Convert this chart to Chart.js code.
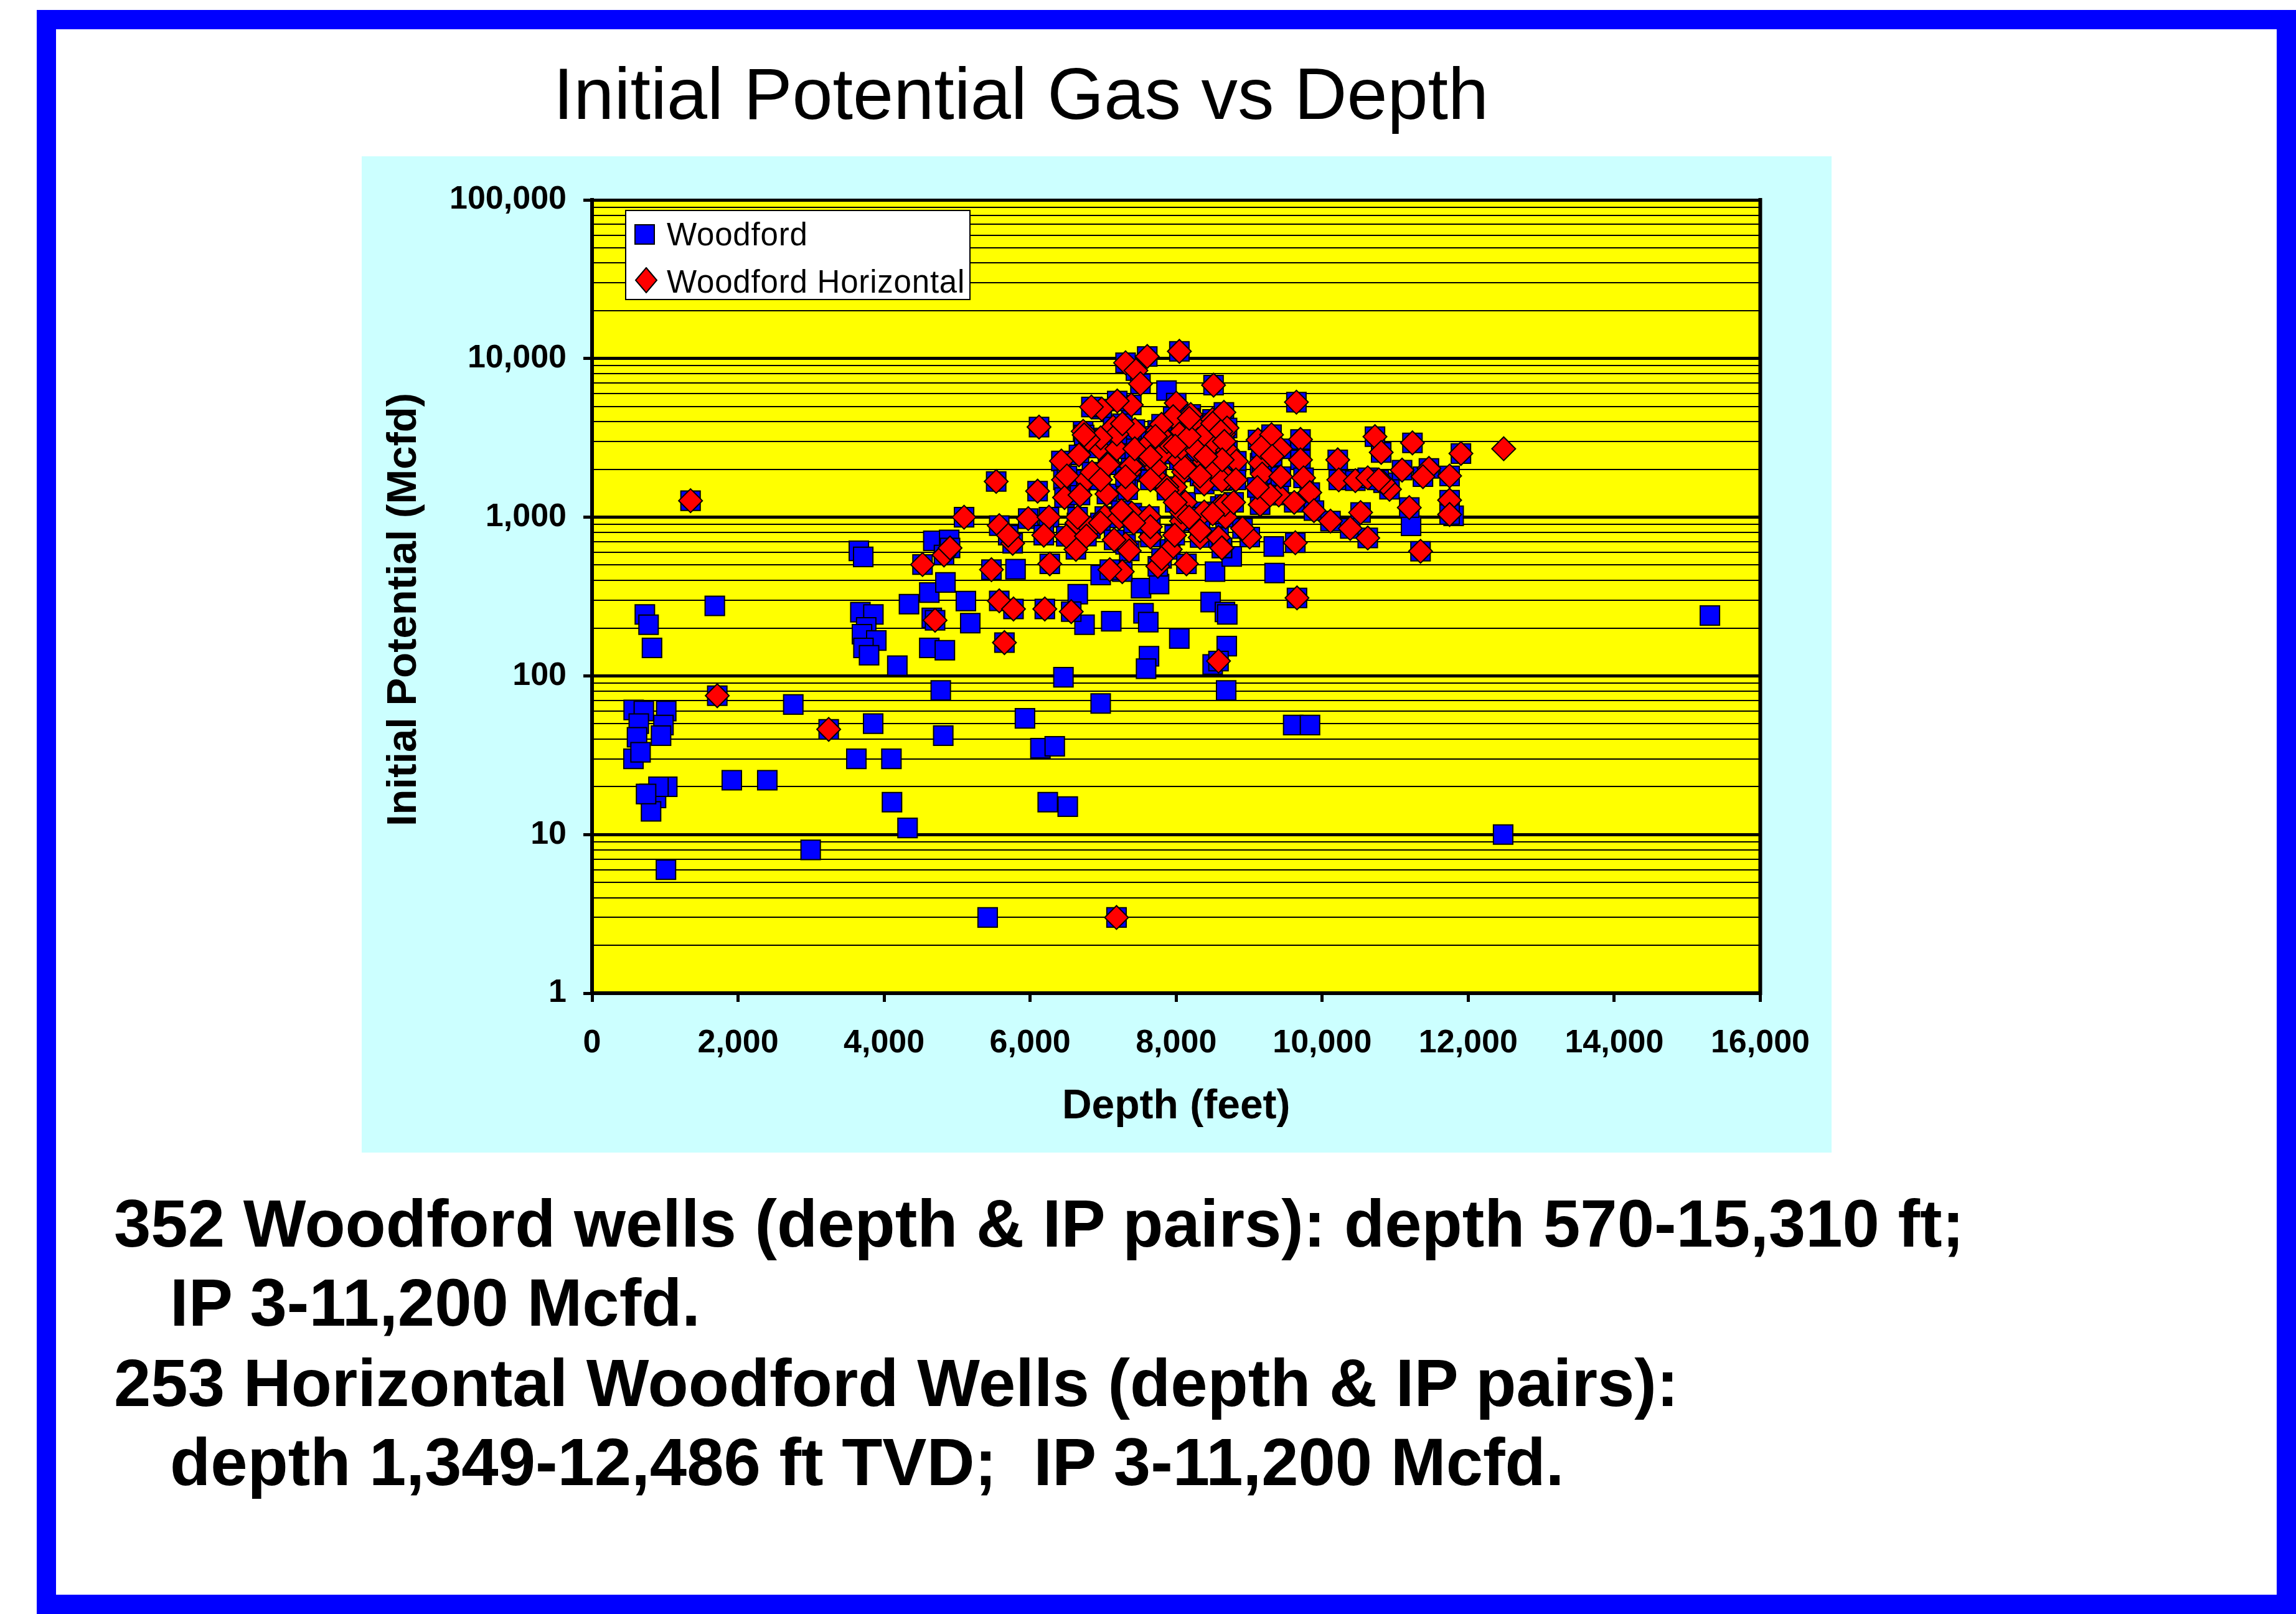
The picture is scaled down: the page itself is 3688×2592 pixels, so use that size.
<!DOCTYPE html>
<html><head><meta charset="utf-8">
<script src="https://cdn.jsdelivr.net/npm/chart.js@4.4.1/dist/chart.umd.min.js"></script>
<style>
html,body{margin:0;padding:0;background:#fff;}
body{width:3688px;height:2592px;position:relative;overflow:hidden;font-family:'Liberation Sans',Arial,sans-serif;color:#000;}
#frame{position:absolute;left:59px;top:16px;width:3629px;height:2576px;border:31px solid #0000FF;box-sizing:border-box;}
#title{position:absolute;left:1640px;top:92px;transform:translateX(-50%);font-size:117px;line-height:117px;white-space:nowrap;}
#chartBox{position:absolute;left:581px;top:251px;width:2361px;height:1600px;background:#CCFFFF;}
#legend{position:absolute;left:1004px;top:337px;width:555px;height:145px;box-sizing:border-box;border:2px solid #000;background:#fff;}
.lg{position:absolute;left:1071px;font-size:51px;line-height:52px;white-space:nowrap;letter-spacing:0.8px;}
.mk{position:absolute;}
.note{position:absolute;font-size:106.7px;line-height:106px;font-weight:bold;white-space:nowrap;}
</style></head>
<body>
<div id="frame"></div>
<div id="title">Initial Potential Gas vs Depth</div>
<div id="chartBox"><canvas id="c" width="2361" height="1600" style="width:2361px;height:1600px;display:block"></canvas></div>
<div id="legend"></div>
<svg class="mk" style="left:1019px;top:360px" width="34" height="34"><rect x="1" y="1" width="31" height="31" fill="#0000FF" stroke="#000" stroke-width="2"/></svg>
<svg class="mk" style="left:1019px;top:429px" width="38" height="42"><polygon points="19,1 36,21 19,41 2,21" fill="#FF0000" stroke="#000" stroke-width="2"/></svg>
<div class="lg" style="top:351px">Woodford</div>
<div class="lg" style="top:427px">Woodford Horizontal</div>
<div class="note" style="left:183px;top:1912px">352 Woodford wells (depth &amp; IP pairs): depth 570-15,310 ft;</div>
<div class="note" style="left:273px;top:2039px">IP 3-11,200 Mcfd.</div>
<div class="note" style="left:183px;top:2168px">253 Horizontal Woodford Wells (depth &amp; IP pairs):</div>
<div class="note" style="left:273px;top:2295px">depth 1,349-12,486 ft TVD;&nbsp; IP 3-11,200 Mcfd.</div>
<script>
// ---- data ----
// Woodford wells that are not horizontal (blue squares only)
const woodfordDepth = [570,709,1016,640,978,616,945,567,664,787,876,1030,910,808,740,723,774,821,1012,1681,1914,2400,2756,2994,3620,3654,3714,3675,3853,3755,3697,3893,3717,3794,3850,4100,4108,4181,4321,4341,4619,4840,4653,4619,4832,4776,4810,4674,4891,5120,5180,5418,5800,5929,6141,6337,6241,6515,6456,6966,6652,6745,7111,6966,7519,7766,7553,7618,8043,7628,7588,8693,8472,8668,8700,8500,8685,9348,9337,8532,8761,9603,9833,11217,11800,7868,12478,15310];
const woodfordIP    = [61,60,60,50,49,41,42,30,33,18,17,20,20,14,18,244,210,150,6,276,22,22,66,8,30,614,562,252,244,202,183,167,150,135,50,30,16,116,11,283,335,388,232,150,145,81,42,710,720,296,215,3,470,54,35,36,16,15,98,67,327,210,221,432,357,379,248,218,172,133,111,154,292,253,244,118,81,445,654,454,566,49,49,883,1020,6280,10,240];
// Horizontal Woodford wells (red diamonds, also plotted as Woodford squares)
const horizontalDepth = [8044,7604,7307,7449,7511,8512,8001,7386,7193,6981,6839,6122,8200,8498,7959,7434,7137,6726,7747,8044,8230,8300,7817,6669,6428,7080,7364,7647,7800,8044,8384,8100,8439,6769,6456,7052,7336,7732,7987,8129,5535,6102,6471,6683,5095,5577,5761,5974,6258,6187,6641,6825,7023,7220,7392,7632,7647,7307,6627,8328,8072,8580,
 5700,6495,7358,7919,8067,7873,8629,8605,8677,8384,8384,8702,8507,8115,7724,7383,7066,6945,7188,7433,7653,7873,8067,8285,8507,8702,8384,8651,7775,7188,6966,6796,6504,6847,
 8654,8697,8500,8611,8824,8625,8668,8500,9121,9306,9703,9703,9433,9150,9178,9745,9405,9150,9830,9617,9887,10114,10213,10227,10454,10624,10723,10808,10922,10840,11094,11236,11462,11745,11900,11745,11745,11193,10526,10384,10624,11347,9632,9008,8909,8625,9647,
 11380,10775,
 9166,9433,9288,8660,8631,8818,8787,8327,8404,8178,7987,8180,7800,7715,7647,7264,6740,6963,7306,7647,7875,7987,8178,7647,7980,7418,7250,6963,6771,7150,6650,9112,9315,8327,
 4526,4820,4903,5470,6269,7262,7091,7749,8141,7800,4698,5577,5772,6201,6563,5648,8580,9655,1349,1715,3241,7183];
const horizontalIP = [11100,10300,9400,8400,6930,6800,5240,5100,5400,4800,4950,3700,4440,4130,4300,3560,3700,3480,3520,3340,3880,3090,3250,2470,2260,2170,1930,2300,2500,2300,2230,1930,1720,1720,1720,1400,1490,1770,1550,1240,1680,1460,1330,1380,1000,885,685,980,1000,770,920,850,1010,990,1060,1010,750,675,627,745,945,745,
 770,758,614,627,1080,1556,640,1170,1000,1080,1620,1750,2060,2060,2060,2100,2140,2730,2700,2700,2990,2990,2730,2630,2930,2630,3340,3340,3340,3340,3160,3090,1820,1920,
 4580,3650,3900,3470,2250,1700,1200,1050,3070,3310,3090,2300,2700,2190,1870,1770,1380,1200,1430,1240,1100,945,2300,1720,1700,1770,3220,2560,1500,1650,1980,2940,2030,1820,2520,1280,1040,1150,1070,850,740,610,690,750,850,640,5310,
 1800,1720,
 2750,1800,1380,3000,2300,1720,1240,1820,2410,3230,2800,4200,3850,3230,2400,3880,3300,1720,1800,1720,1480,1240,1000,870,770,920,1100,920,760,720,1000,1540,2420,820,
 503,578,640,467,508,454,467,490,508,550,224,297,264,264,254,162,124,310,1270,75,46,3];
// Horizontal well with no matching Woodford square
const horizontalOnlyDepth = [12486];
const horizontalOnlyIP = [2700];

const xTickValues = [0,2000,4000,6000,8000,10000,12000,14000,16000];
const xTickLabels = ['0','2,000','4,000','6,000','8,000','10,000','12,000','14,000','16,000'];
const yDecades = [1,10,100,1000,10000,100000];
const yTickLabels = ['1','10','100','1,000','10,000','100,000'];
const yMinorMultipliers = [2,3,4,5,6,7,8,9];
const yAxisTitle = 'Initial Potential (Mcfd)';

// ---- build ----
const toPts = (xs, ys) => xs.map((x, i) => ({x: x, y: ys[i]}));
const bluePts = toPts(woodfordDepth, woodfordIP).concat(toPts(horizontalDepth, horizontalIP));
const redPts = toPts(horizontalDepth, horizontalIP).concat(toPts(horizontalOnlyDepth, horizontalOnlyIP));
const yGridValues = [];
yDecades.forEach((d, i) => { yGridValues.push(d); if (i < yDecades.length - 1) yMinorMultipliers.forEach(m => yGridValues.push(m * d)); });
const isDecade = v => yDecades.indexOf(v) >= 0;

const FAM = "'Liberation Sans', Arial, sans-serif";
Chart.defaults.font.family = FAM;

const plotDecor = {
  id: 'plotDecor',
  beforeDraw(chart) {
    const {ctx, chartArea: a} = chart;
    ctx.save();
    ctx.fillStyle = '#FFFF00';
    ctx.fillRect(a.left, a.top, a.right - a.left, a.bottom - a.top);
    ctx.restore();
  },
  beforeDatasetsDraw(chart) {
    const {ctx, chartArea: a} = chart;
    ctx.save();
    ctx.strokeStyle = '#000';
    ctx.lineWidth = 6;
    ctx.beginPath();
    ctx.moveTo(a.right, a.top - 3);
    ctx.lineTo(a.right, a.bottom + 3);
    ctx.stroke();
    ctx.restore();
  },
  afterDraw(chart) {
    const {ctx, chartArea: a} = chart;
    ctx.save();
    ctx.translate(69, (a.top + a.bottom) / 2 + 21);
    ctx.rotate(-Math.PI / 2);
    ctx.textAlign = 'center';
    ctx.textBaseline = 'middle';
    ctx.fillStyle = '#000';
    ctx.font = "bold 67px " + FAM;
    ctx.fillText(yAxisTitle, 0, 0);
    ctx.restore();
  }
};

new Chart(document.getElementById('c'), {
  type: 'scatter',
  data: {
    datasets: [
      { label: 'Woodford', data: bluePts, order: 2, pointStyle: 'rect', pointRadius: 22,
        backgroundColor: '#0000FF', borderColor: '#000', pointBorderWidth: 2 },
      { label: 'Woodford Horizontal', data: redPts, order: 1, pointStyle: 'rectRot', pointRadius: 19,
        backgroundColor: '#FF0000', borderColor: '#000', pointBorderWidth: 2 }
    ]
  },
  options: {
    responsive: false, animation: false, devicePixelRatio: 1, events: [],
    layout: { padding: { left: 30, top: 70, right: 108, bottom: 34 } },
    plugins: { legend: { display: false }, tooltip: { enabled: false } },
    scales: {
      x: {
        type: 'linear', min: 0, max: 16000,
        afterBuildTicks: s => { s.ticks = xTickValues.map(v => ({value: v})); },
        afterFit: s => { s.height = 222; },
        ticks: { autoSkip: false, maxRotation: 0, padding: 35, color: '#000',
          font: { family: FAM, size: 52, weight: 'bold' },
          callback: (v, i) => xTickLabels[i] },
        grid: { drawOnChartArea: false, drawTicks: true, tickLength: 14, tickWidth: 5, tickColor: '#000' },
        border: { display: true, color: '#000', width: 6 },
        title: { display: true, text: 'Depth (feet)', color: '#000', padding: 0,
          font: { family: FAM, size: 66, weight: 'bold' } }
      },
      y: {
        type: 'logarithmic', min: 1, max: 100000,
        afterBuildTicks: s => { s.ticks = yGridValues.map(v => ({value: v, major: isDecade(v)})); },
        afterFit: s => { s.width = 340; },
        ticks: { autoSkip: false, padding: 27, color: '#000',
          font: { family: FAM, size: 52, weight: 'bold' },
          callback: v => { const k = yDecades.indexOf(v); return k >= 0 ? yTickLabels[k] : ''; } },
        grid: { color: '#000', drawTicks: true, tickLength: 14,
          lineWidth: c => (c.tick && isDecade(c.tick.value)) ? 5 : 2,
          tickWidth: 5,
          tickColor: c => (c.tick && isDecade(c.tick.value)) ? '#000' : 'rgba(0,0,0,0)' },
        border: { display: true, color: '#000', width: 6 },
        title: { display: false }
      }
    }
  },
  plugins: [plotDecor]
});
</script>
</body></html>
